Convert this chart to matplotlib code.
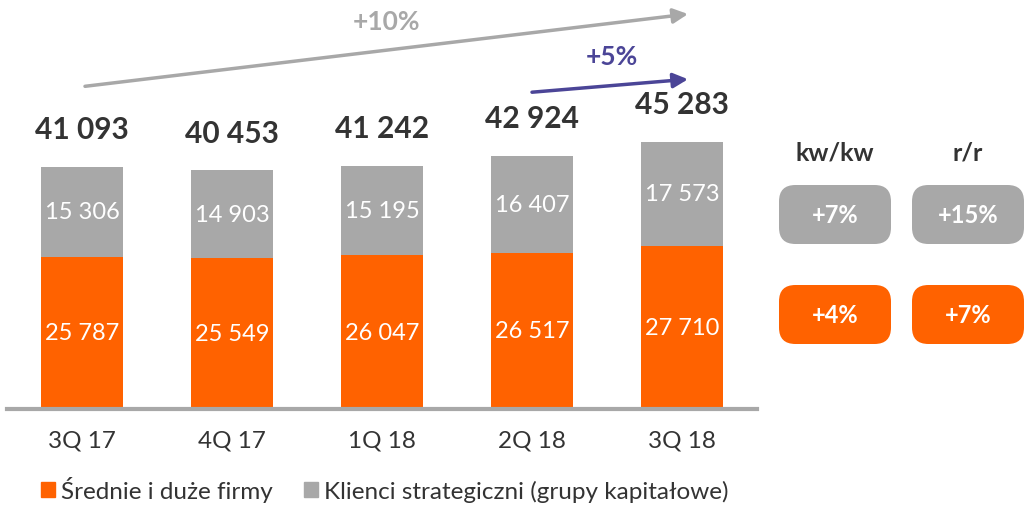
import matplotlib
matplotlib.use("Agg")
import matplotlib.pyplot as plt
from matplotlib.patches import FancyBboxPatch, Patch

plt.rcParams['font.family'] = ['Lato', 'DejaVu Sans']

quarters = ['3Q 17', '4Q 17', '1Q 18', '2Q 18', '3Q 18']
srednie = [25787, 25549, 26047, 26517, 27710]
strategiczni = [15306, 14903, 15195, 16407, 17573]
totals = [41093, 40453, 41242, 42924, 45283]

growth_headers = ['kw/kw', 'r/r']
growth_strateg = ['+7%', '+15%']
growth_srednie = ['+4%', '+7%']

ORANGE = '#FF6200'
GREY = '#A8A8A8'
DARK = '#333333'
PURPLE = '#4B4597'


def fmt(v):
    return f'{v:,}'.replace(',', ' ')


fig = plt.figure(figsize=(10.25, 5.06), dpi=100)
ax = fig.add_axes([7 / 1025, 96 / 506, 750 / 1025, 410 / 506])

x = range(len(quarters))
ax.bar(x, srednie, width=0.55, color=ORANGE)
ax.bar(x, strategiczni, width=0.55, bottom=srednie, color=GREY)

for i in x:
    ax.text(i, srednie[i] / 2, fmt(srednie[i]), ha='center', va='center',
            color='white', fontsize=17)
    ax.text(i, srednie[i] + strategiczni[i] / 2, fmt(strategiczni[i]),
            ha='center', va='center', color='white', fontsize=17)
    ax.annotate(fmt(totals[i]), (i, totals[i]), xytext=(0, 27),
                textcoords='offset points', ha='center', va='center',
                color=DARK, fontsize=21.5, fontweight='bold')

ax.set_xlim(-0.5, 4.5)
ax.set_ylim(0, 69500)
ax.set_yticks([])
ax.set_xticks(list(x))
ax.set_xticklabels(quarters, fontsize=17.5, color=DARK)
ax.tick_params(axis='x', length=0, pad=15)
for side in ['top', 'left', 'right']:
    ax.spines[side].set_visible(False)
ax.spines['bottom'].set_color(GREY)
ax.spines['bottom'].set_linewidth(3)

# growth arrows over the bars
ax.annotate('', xy=(4.04, 66950), xytext=(0.02, 54700),
            arrowprops=dict(arrowstyle='-|>', color=GREY, lw=2.5,
                            mutation_scale=22, shrinkA=0, shrinkB=0))
ax.text(2.03, 65750, '+10%', ha='center', va='center', color=GREY,
        fontsize=19, fontweight='bold')
ax.annotate('', xy=(4.04, 55900), xytext=(3.0, 53700),
            arrowprops=dict(arrowstyle='-|>', color=PURPLE, lw=2.5,
                            mutation_scale=22, shrinkA=0, shrinkB=0))
ax.text(3.53, 59800, '+5%', ha='center', va='center', color=PURPLE,
        fontsize=19, fontweight='bold')

# growth boxes on the right
W, H = 1025, 506
col_x = [779, 912]
box_w, box_h = 112, 59
for j, head in enumerate(growth_headers):
    cx = col_x[j] + box_w / 2
    fig.text(cx / W, 1 - 153 / H, head, ha='center', va='center',
             color=DARK, fontsize=18, fontweight='bold')
    for top, color, vals in [(186, GREY, growth_strateg),
                             (286, ORANGE, growth_srednie)]:
        box = FancyBboxPatch((col_x[j] / W, 1 - (top + box_h) / H),
                             box_w / W, box_h / H,
                             boxstyle='round,pad=0,rounding_size=0.016',
                             transform=fig.transFigure, facecolor=color,
                             edgecolor='none', mutation_aspect=W / H)
        fig.patches.append(box)
        fig.text(cx / W, 1 - (top + box_h / 2) / H, vals[j], ha='center',
                 va='center', color='white', fontsize=17, fontweight='bold')

handles = [Patch(color=ORANGE, label='Średnie i duże firmy'),
           Patch(color=GREY, label='Klienci strategiczni (grupy kapitałowe)')]
fig.legend(handles=handles, loc='center left', bbox_to_anchor=(41 / W, 1 - 490 / H),
           ncol=2, frameon=False, fontsize=17.5, handlelength=0.58,
           handleheight=0.58, handletextpad=0.25, columnspacing=1.27,
           borderpad=0, borderaxespad=0, labelcolor=DARK)

fig.savefig('out.png', dpi=100)
